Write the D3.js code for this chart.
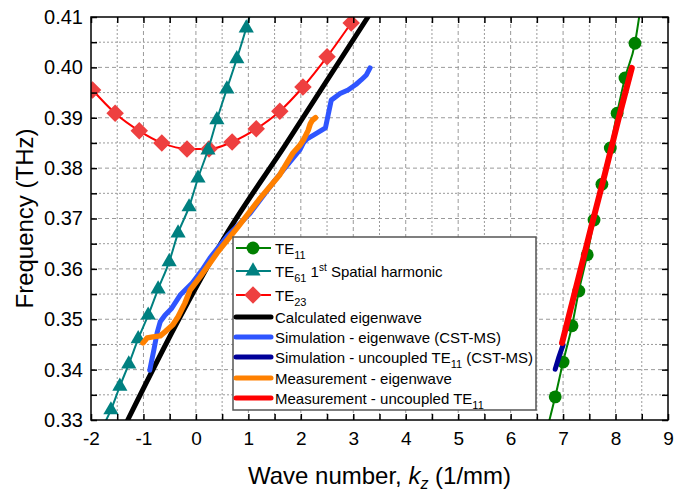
<!DOCTYPE html>
<html>
<head>
<meta charset="utf-8">
<script src="https://cdn.jsdelivr.net/npm/d3@7"></script>
<style>
  body { margin: 0; background: #fff; }
  text { font-family: "Liberation Sans", Arial, sans-serif; fill: #000; }
</style>
</head>
<body>
<script>
// axis ticks
const xTicks = [-2, -1, 0, 1, 2, 3, 4, 5, 6, 7, 8, 9];
const yTicks = [0.33, 0.34, 0.35, 0.36, 0.37, 0.38, 0.39, 0.40, 0.41];

// TE11 (markers + line ends)
const te11K = [6.85, 7.00, 7.17, 7.30, 7.46, 7.59, 7.74, 7.90, 8.03, 8.18, 8.37];
const te11F = [0.3346, 0.3415, 0.3487, 0.3556, 0.3628, 0.3697, 0.3768, 0.3840, 0.3909, 0.3979, 0.4048];
const te11Ends = [[6.74, 0.33], [8.45, 0.41]];

// TE61 1st spatial harmonic
const te61K = [-1.62, -1.45, -1.28, -1.10, -0.91, -0.72, -0.51, -0.34, -0.13, 0.04, 0.23, 0.40, 0.59, 0.78, 0.96];
const te61F = [0.3320, 0.3367, 0.3411, 0.3461, 0.3508, 0.3560, 0.3614, 0.3671, 0.3723, 0.3780, 0.3836, 0.3896, 0.3957, 0.4017, 0.4078];
const te61Ends = [[-1.71, 0.33], [1.02, 0.41]];

// TE23
const te23K = [-1.97, -1.54, -1.08, -0.65, -0.17, 0.25, 0.69, 1.15, 1.60, 2.04, 2.50, 2.96];
const te23F = [0.3955, 0.3909, 0.3874, 0.3850, 0.3838, 0.3838, 0.3852, 0.3878, 0.3913, 0.3961, 0.4021, 0.4088];

// calculated eigenwave
const calcK = [-1.30, -0.30, 0.60, 1.70, 3.28];
const calcF = [0.3300, 0.3505, 0.3672, 0.3845, 0.4100];

// simulation eigenwave (CST-MS)
const simK = [-0.88, -0.80, -0.74, -0.68, -0.59, -0.46, -0.30, -0.07, 0.12, 0.27, 0.60, 1.03, 1.50, 1.98, 2.05, 2.12, 2.25, 2.47, 2.52, 2.58, 2.75, 2.90, 3.05, 3.15, 3.25, 3.32];
const simF = [0.3399, 0.3440, 0.3473, 0.3495, 0.3508, 0.3522, 0.3548, 0.3572, 0.3598, 0.3622, 0.3665, 0.3710, 0.3775, 0.3836, 0.3850, 0.3858, 0.3866, 0.3880, 0.3905, 0.3935, 0.3948, 0.3955, 0.3966, 0.3975, 0.3985, 0.3999];

// simulation uncoupled TE11 (CST-MS)
const simTe11K = [6.85, 6.92, 7.00];
const simTe11F = [0.3401, 0.3425, 0.3449];

// measurement eigenwave
const measK = [-1.01, -0.93, -0.82, -0.68, -0.59, -0.44, -0.34, -0.21, -0.11, 0.08, 0.27, 0.42, 0.80, 1.20, 1.60, 1.85, 1.98, 2.06, 2.14, 2.18, 2.22, 2.28];
const measF = [0.3453, 0.3463, 0.3465, 0.3467, 0.3475, 0.3489, 0.3505, 0.3532, 0.3558, 0.3584, 0.3612, 0.3634, 0.3683, 0.3737, 0.3787, 0.3830, 0.3845, 0.3858, 0.3875, 0.3888, 0.3895, 0.3900];

// measurement uncoupled TE11
const measTe11K = [6.98, 7.30, 7.51, 7.80, 8.05, 8.31];
const measTe11F = [0.3453, 0.3585, 0.3672, 0.3790, 0.3895, 0.3999];

const W = 686, H = 492;
const m = { left: 91, top: 17, right: 18, bottom: 72 };

const x = d3.scaleLinear().domain([-2, 9]).range([m.left, W - m.right]);
const y = d3.scaleLinear().domain([0.33, 0.41]).range([H - m.bottom, m.top]);

const svg = d3.select('body').append('svg')
  .attr('width', W)
  .attr('height', H);

svg.append('clipPath').attr('id', 'clip')
  .append('rect')
  .attr('x', m.left).attr('y', m.top)
  .attr('width', W - m.left - m.right)
  .attr('height', H - m.top - m.bottom);

// grid
const xGrid = d3.range(-1.5, 9, 0.5);
const yGrid = d3.range(0.335, 0.4099, 0.005);
const grid = svg.append('g');
grid.selectAll('.vg').data(xGrid).enter().append('line')
  .attr('x1', d => x(d)).attr('x2', d => x(d))
  .attr('y1', m.top).attr('y2', H - m.bottom)
  .attr('stroke', '#9a9a9a').attr('stroke-width', 1)
  .attr('stroke-dasharray', d => Number.isInteger(d) ? '4,3' : '2,2');
grid.selectAll('.hg').data(yGrid).enter().append('line')
  .attr('y1', d => y(d)).attr('y2', d => y(d))
  .attr('x1', m.left).attr('x2', W - m.right)
  .attr('stroke', '#9a9a9a').attr('stroke-width', 1)
  .attr('stroke-dasharray', (d, i) => i % 2 === 1 ? '4,3' : '2,2');

const plot = svg.append('g').attr('clip-path', 'url(#clip)');

const line = d3.line().x(d => x(d[0])).y(d => y(d[1]));
const smooth = d3.line().x(d => x(d[0])).y(d => y(d[1])).curve(d3.curveMonotoneX);
const zip = (a, b) => a.map((v, i) => [v, b[i]]);

function drawLine(pts, color, width, gen) {
  plot.append('path')
    .datum(pts)
    .attr('fill', 'none')
    .attr('stroke', color)
    .attr('stroke-width', width)
    .attr('stroke-linejoin', 'round')
    .attr('stroke-linecap', 'round')
    .attr('d', gen || line);
}

function drawMarkers(pts, type, size, color) {
  plot.selectAll(null).data(pts).enter().append('path')
    .attr('transform', d => `translate(${x(d[0])},${y(d[1])})`)
    .attr('d', d3.symbol().type(type).size(size))
    .attr('fill', color);
}

const diamond = {
  draw(ctx, size) {
    const r = Math.sqrt(size) / 1.4;
    ctx.moveTo(0, -r); ctx.lineTo(r, 0); ctx.lineTo(0, r); ctx.lineTo(-r, 0); ctx.closePath();
  }
};

// TE23
const te23 = zip(te23K, te23F);
drawLine(te23, '#ff0000', 2, smooth);
drawMarkers(te23, diamond, 150, '#ee4040');

// TE61
const te61 = zip(te61K, te61F);
drawLine([te61Ends[0], ...te61, te61Ends[1]], '#008080', 2, smooth);
drawMarkers(te61, d3.symbolTriangle, 100, '#008080');

// TE11
const te11 = zip(te11K, te11F);
drawLine([te11Ends[0], ...te11, te11Ends[1]], '#008000', 2, smooth);
drawMarkers(te11, d3.symbolCircle, 130, '#008000');

// thick curves
drawLine(zip(calcK, calcF), '#000000', 5, smooth);
drawLine(zip(simK, simF), '#2f55ff', 5);
drawLine(zip(simTe11K, simTe11F), '#000099', 5);
drawLine(zip(measK, measF), '#ff8000', 5.5);
drawLine(zip(measTe11K, measTe11F), '#ff0000', 6);

// frame
svg.append('rect')
  .attr('x', m.left).attr('y', m.top)
  .attr('width', W - m.left - m.right)
  .attr('height', H - m.top - m.bottom)
  .attr('fill', 'none').attr('stroke', '#000').attr('stroke-width', 1.5);

// axes (inward ticks on every side)
const xAll = d3.range(-2, 9.01, 0.5);
const yAll = d3.range(0.33, 0.41001, 0.005);
const isMajorY = v => Math.abs(v * 100 - Math.round(v * 100)) < 1e-6;

const xAxis = d3.axisBottom(x).tickValues(xAll).tickSize(-6).tickPadding(12)
  .tickFormat(d => Number.isInteger(d) ? String(d) : '');
const yAxis = d3.axisLeft(y).tickValues(yAll).tickSize(-6).tickPadding(8)
  .tickFormat(d => isMajorY(d) ? d3.format('.2f')(d) : '');

const gx = svg.append('g').attr('transform', `translate(0,${H - m.bottom})`).call(xAxis);
const gy = svg.append('g').attr('transform', `translate(${m.left},0)`).call(yAxis);
svg.append('g').attr('transform', `translate(0,${m.top})`)
  .call(d3.axisTop(x).tickValues(xAll).tickSize(-6).tickFormat(''));
svg.append('g').attr('transform', `translate(${W - m.right},0)`)
  .call(d3.axisRight(y).tickValues(yAll).tickSize(-6).tickFormat(''));

svg.selectAll('.domain').remove();
svg.selectAll('.tick line').attr('stroke', '#000').attr('stroke-width', 1.5);
gx.selectAll('text').style('font-size', '19px').style('font-family', '"Liberation Sans", Arial, sans-serif');
gy.selectAll('text').style('font-size', '20px').style('font-family', '"Liberation Sans", Arial, sans-serif');

// axis titles
const xt = svg.append('text')
  .attr('x', (m.left + W - m.right) / 2)
  .attr('y', 484)
  .attr('text-anchor', 'middle')
  .style('font-size', '24px');
xt.append('tspan').text('Wave number, ');
xt.append('tspan').style('font-style', 'italic').text('k');
xt.append('tspan').style('font-style', 'italic').style('font-size', '16px').attr('dy', 5).text('z');
xt.append('tspan').attr('dy', -5).text(' (1/mm)');

svg.append('text')
  .attr('transform', `translate(33,${(m.top + H - m.bottom) / 2}) rotate(-90)`)
  .attr('text-anchor', 'middle')
  .style('font-size', '24px')
  .text('Frequency (THz)');

// legend
const legend = svg.append('g');
legend.append('rect')
  .attr('x', 233).attr('y', 237)
  .attr('width', 303).attr('height', 173)
  .attr('fill', '#fff').attr('stroke', '#555').attr('stroke-width', 1.5);

const legendItems = [
  { color: '#008000', w: 2, marker: d3.symbolCircle, ms: 130, mc: '#008000', label: [['TE'], ['11', 'sub']] },
  { color: '#008080', w: 2, marker: d3.symbolTriangle, ms: 100, mc: '#008080', label: [['TE'], ['61', 'sub'], [' 1'], ['st', 'sup'], [' Spatial harmonic']] },
  { color: '#ff0000', w: 2, marker: diamond, ms: 150, mc: '#ee4040', label: [['TE'], ['23', 'sub']] },
  { color: '#000000', w: 5, label: [['Calculated eigenwave']] },
  { color: '#2f55ff', w: 5, label: [['Simulation - eigenwave (CST-MS)']] },
  { color: '#000099', w: 5, label: [['Simulation - uncoupled TE'], ['11', 'sub'], [' (CST-MS)']] },
  { color: '#ff8000', w: 5, label: [['Measurement - eigenwave']] },
  { color: '#ff0000', w: 5, label: [['Measurement - uncoupled TE'], ['11', 'sub']] }
];
const legendY = [248, 271, 295, 317, 337, 357, 378, 398];

legendItems.forEach((it, i) => {
  const ly = legendY[i];
  legend.append('line')
    .attr('x1', 236).attr('x2', 271)
    .attr('y1', ly).attr('y2', ly)
    .attr('stroke', it.color).attr('stroke-width', it.w)
    .attr('stroke-linecap', it.w > 2 ? 'round' : 'butt');
  if (it.marker) {
    legend.append('path')
      .attr('transform', `translate(253,${ly})`)
      .attr('d', d3.symbol().type(it.marker).size(it.ms))
      .attr('fill', it.mc);
  }
  const t = legend.append('text')
    .attr('x', 275).attr('y', ly + 5.5)
    .style('font-size', '15px');
  let shift = 0;
  it.label.forEach(([s, kind]) => {
    const sp = t.append('tspan').text(s);
    if (kind === 'sub') {
      sp.attr('dy', 5 - shift).style('font-size', '11px'); shift = 5;
    } else if (kind === 'sup') {
      sp.attr('dy', -6 - shift).style('font-size', '10px'); shift = -6;
    } else if (shift !== 0) {
      sp.attr('dy', -shift); shift = 0;
    }
  });
});
</script>
</body>
</html>
